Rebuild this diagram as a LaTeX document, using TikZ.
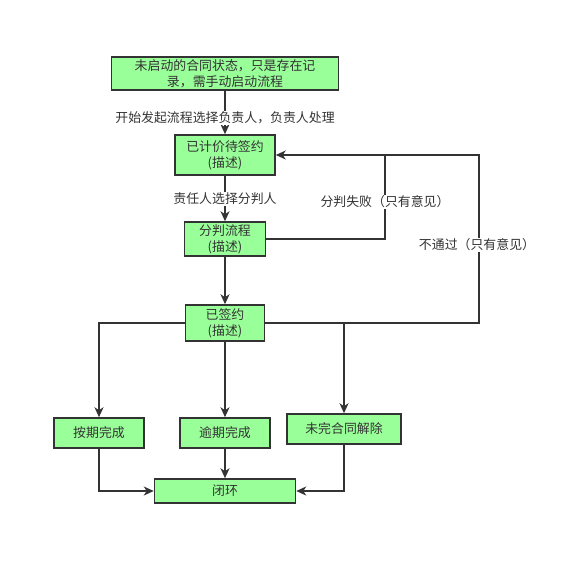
\documentclass[tikz,border=0pt]{standalone}
\usepackage{fontspec}
\setmainfont{Noto Sans CJK SC}
\usetikzlibrary{arrows.meta}
\definecolor{boxgreen}{HTML}{99FF99}
\definecolor{linegray}{HTML}{333333}

\begin{document}
\begin{tikzpicture}[x=1pt,y=-1pt,line width=1.5pt,
    state/.style args={#1:#2}{
            draw=linegray,fill=boxgreen,text=linegray,align=center,inner sep=0pt,
            minimum width=#1,minimum height=#2,font=\fontsize{12.9}{16}\selectfont
        },
    flow/.style={draw=linegray,-{Stealth[length=10pt,width=9pt,inset=3pt]}},
    note/.style={fill=white,text=linegray,inner sep=1pt,font=\fontsize{12.9}{16}\selectfont}]
    \useasboundingbox (0,0) rectangle (571,581);
    \node[state=227:33] (idle) at (225,73.5) {未启动的合同状态，只是存在记\\录，需手动启动流程};
    \node[state=100:40] (wait) at (225,155) {已计价待签约\\(描述)};
    \node[state=81:34] (split) at (225,239) {分判流程\\(描述)};
    \node[state=79:36] (signed) at (225,323) {已签约\\(描述)};
    \node[state=90:30] (ontime) at (99,433) {按期完成};
    \node[state=90:30] (late) at (225,433) {逾期完成};
    \node[state=114:30] (cancel) at (344,429) {未完合同解除};
    \node[state=141:24] (closed) at (225,491) {闭环};
    \coordinate (fail) at (385,155);
    \coordinate (reject) at (479,155);
    \draw[flow] (idle) -- (wait);
    \draw[flow] (wait) -- (split);
    \draw[flow] (split) -- (signed);
    \draw[flow] (signed) -- (late);
    \draw[flow] (signed.west) -| (ontime.north);
    \draw[flow] (signed.east) -| (cancel.north);
    \draw[linegray] (split.east) -| (fail);
    \draw[linegray] (signed.east) -| (reject) -- (fail);
    \draw[flow] (fail) -- (wait.east);
    \draw[flow] (ontime) |- (closed);
    \draw[flow] (late) -- (closed);
    \draw[flow] (cancel) |- (closed);
    \node[note] (start) at (225,118) {开始发起流程选择负责人，负责人处理};
    \node[note] (assign) at (225,199) {责任人选择分判人};
    \node[note] (failnote) at (385,202) {分判失败（只有意见）};
    \node[note] (rejnote) at (477,245) {不通过（只有意见）};
\end{tikzpicture}
\end{document}
